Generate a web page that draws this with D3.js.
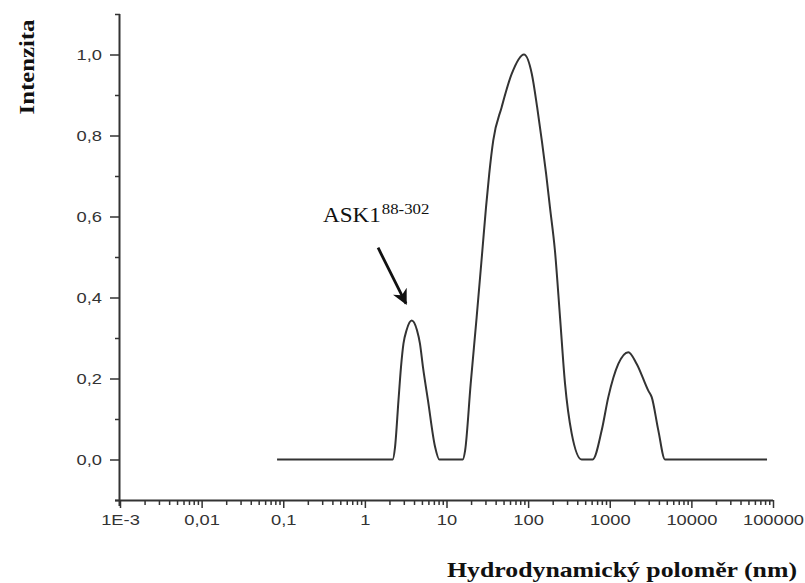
<!DOCTYPE html>
<html lang="cs">
<head>
  <meta charset="UTF-8">
  <title>DLS</title>
  <script src="https://d3js.org/d3.v7.min.js"></script>
  <style>
    body { margin: 0; background: #fff; }
  </style>
</head>
<body>
  <svg width="805" height="583" id="chart"></svg>
  <script>
    // hydrodynamic radius (nm) and intensity
    const radius = [0.084, 2.19, 2.34, 2.58, 2.77, 2.97, 3.24, 3.75, 4.35, 4.73, 5.15, 5.93, 7.23, 8.17,
      15.8, 16.9, 19.8, 23.4, 27.5, 30.5, 33.4, 37.4, 47.4, 62.9, 89, 111, 129, 147, 166, 185,
      213, 246, 283, 342, 453, 618, 797, 960, 1273, 1688, 2140, 2966, 3266, 3936, 4753, 84500];
    const intensity = [0, 0, 0.03, 0.146, 0.228, 0.286, 0.319, 0.343, 0.319, 0.286, 0.228, 0.146, 0.032, 0,
      0, 0.022, 0.188, 0.351, 0.516, 0.623, 0.706, 0.788, 0.87, 0.952, 1.0, 0.952, 0.87, 0.788, 0.706, 0.623,
      0.516, 0.351, 0.188, 0.064, 0, 0, 0.072, 0.154, 0.236, 0.265, 0.236, 0.17, 0.154, 0.072, 0, 0];

    const xTicks = [1e-3, 1e-2, 1e-1, 1, 10, 100, 1000, 10000, 100000];
    const xTickLabels = ['1E-3', '0,01', '0,1', '1', '10', '100', '1000', '10000', '100000'];
    const yTicks = [0, 0.2, 0.4, 0.6, 0.8, 1.0];
    const yTickLabels = ['0,0', '0,2', '0,4', '0,6', '0,8', '1,0'];

    // annotation: label and arrow in data coordinates
    const noteLabel = 'ASK1';
    const noteSup = '88-302';
    const notePos = [0.307, 0.586];
    const arrowFrom = [1.45, 0.523];
    const arrowTo = [3.19, 0.385];

    const svg = d3.select('#chart');
    const ink = '#333';

    const x = d3.scaleLog().domain([1e-3, 1e5]).range([120, 773]);
    const y = d3.scaleLinear().domain([-0.1, 1.1]).range([500, 14]);

    // the source picture is a bit wider than tall, so stretch text sideways
    const stretch = k => function () {
      const w = this.getComputedTextLength();
      d3.select(this).attr('textLength', w * k).attr('lengthAdjust', 'spacingAndGlyphs');
    };

    // minor ticks
    const xMinor = [];
    for (let e = -3; e < 5; e++) {
      for (let k = 2; k <= 9; k++) xMinor.push(k * Math.pow(10, e));
    }
    const yMinor = d3.range(-0.1, 1.15, 0.2).map(v => +v.toFixed(1));

    const gx = svg.append('g').attr('transform', `translate(0,${y(-0.1)})`);
    gx.append('g')
      .call(d3.axisBottom(x).tickValues(xMinor).tickSize(5).tickFormat(''))
      .call(g => g.select('.domain').remove());
    gx.append('g')
      .call(d3.axisBottom(x).tickValues(xTicks).tickSize(8).tickPadding(6)
        .tickFormat((d, i) => xTickLabels[i]))
      .call(g => g.select('.domain').attr('d', `M${x(1e-3) - 5},0.5H${x(1e5)}`));

    const gy = svg.append('g').attr('transform', `translate(${x(1e-3)},0)`);
    gy.append('g')
      .call(d3.axisLeft(y).tickValues(yMinor).tickSize(5).tickFormat(''))
      .call(g => g.select('.domain').remove());
    gy.append('g')
      .call(d3.axisLeft(y).tickValues(yTicks).tickSize(10).tickPadding(8)
        .tickFormat((d, i) => yTickLabels[i]))
      .call(g => g.select('.domain').attr('d', `M-0.5,${y(1.1)}V${y(-0.1) + 6}`));

    svg.selectAll('.domain').attr('stroke', ink).attr('stroke-width', 2);
    svg.selectAll('.tick line').attr('stroke', ink).attr('stroke-width', 1.5);
    svg.selectAll('.tick text')
      .attr('fill', ink)
      .attr('font-family', '"Liberation Sans", Arial, sans-serif')
      .attr('font-size', 15)
      .each(stretch(1.22));

    // the curve
    const pts = radius.map((r, i) => [r, intensity[i]]);
    const line = d3.line()
      .x(d => x(d[0]))
      .y(d => y(d[1]))
      .curve(d3.curveMonotoneX);

    svg.append('path')
      .datum(pts)
      .attr('d', line)
      .attr('fill', 'none')
      .attr('stroke', ink)
      .attr('stroke-width', 2);

    // annotation
    svg.append('defs').append('marker')
      .attr('id', 'head')
      .attr('viewBox', '0 0 10 10')
      .attr('refX', 9).attr('refY', 5)
      .attr('markerWidth', 5.5).attr('markerHeight', 5.5)
      .attr('orient', 'auto')
      .append('path').attr('d', 'M0,0L10,5L0,10L3,5Z').attr('fill', '#111');

    svg.append('line')
      .attr('x1', x(arrowFrom[0])).attr('y1', y(arrowFrom[1]))
      .attr('x2', x(arrowTo[0])).attr('y2', y(arrowTo[1]))
      .attr('stroke', '#111')
      .attr('stroke-width', 2.8)
      .attr('marker-end', 'url(#head)');

    const note = svg.append('text')
      .attr('x', x(notePos[0])).attr('y', y(notePos[1]))
      .attr('font-family', '"Liberation Serif", "Times New Roman", serif')
      .attr('fill', '#111');
    note.append('tspan').text(noteLabel)
      .attr('font-size', 21)
      .each(stretch(1.1));
    note.append('tspan').text(noteSup)
      .attr('font-size', 14).attr('dy', -8).attr('dx', 1)
      .each(stretch(1.2));

    // axis titles
    svg.append('text')
      .text('Intenzita')
      .attr('transform', 'translate(34,67) rotate(-90)')
      .attr('text-anchor', 'middle')
      .attr('font-family', '"Liberation Serif", "Times New Roman", serif')
      .attr('font-weight', 'bold')
      .attr('font-size', 22)
      .attr('textLength', 95)
      .attr('lengthAdjust', 'spacingAndGlyphs')
      .attr('fill', '#111');

    svg.append('text')
      .text('Hydrodynamický poloměr (nm)')
      .attr('x', 797).attr('y', 577)
      .attr('text-anchor', 'end')
      .attr('font-family', '"Liberation Serif", "Times New Roman", serif')
      .attr('font-weight', 'bold')
      .attr('font-size', 22)
      .attr('textLength', 350)
      .attr('lengthAdjust', 'spacingAndGlyphs')
      .attr('fill', '#111');
  </script>
</body>
</html>
